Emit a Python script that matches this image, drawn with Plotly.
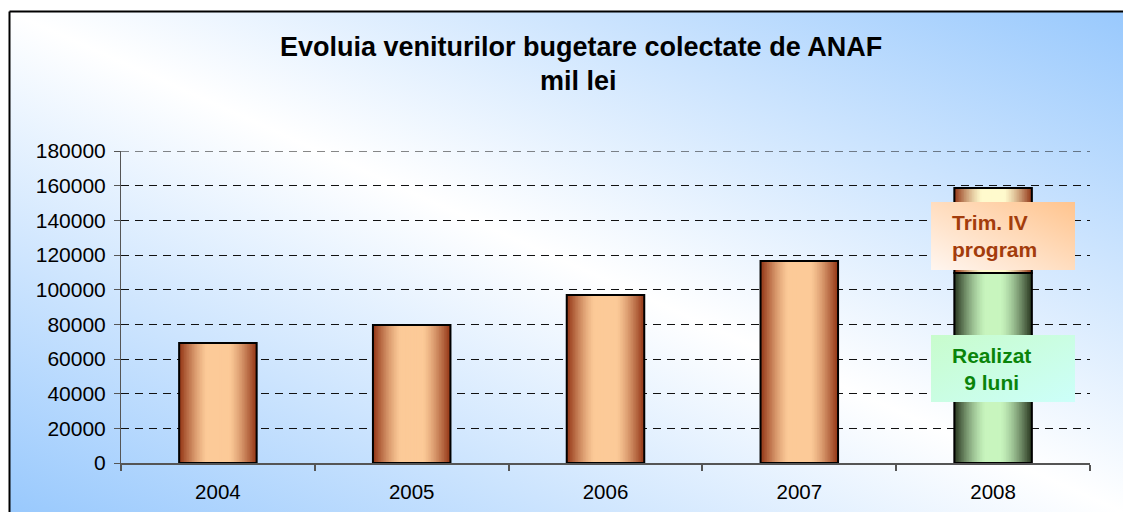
import math
import plotly.graph_objects as go

# ---- data ----
years = ["2004", "2005", "2006", "2007", "2008"]
totals = [69200, 79600, 96900, 116500, 158600]   # mil lei
realizat_2008 = 109600                            # 9 months realised
trim_iv_2008 = totals[-1] - realizat_2008         # Q4 programme
y_ticks = [0, 20000, 40000, 60000, 80000, 100000, 120000, 140000, 160000, 180000]
title_lines = ["Evoluia veniturilor bugetare colectate de ANAF", "mil lei"]

# ---- style ----
W, H = 1123, 512
L, R, T, B = 121, 33, 151, 49
PW, PH = W - L - R, H - T - B
BAR_W = 0.40
NLEV = 24
GRID_DASH = "8px,6px"


def px_x(x):
    return (x - L) / PW


def px_y(y):
    return (H - B - y) / PH


def mix(c1, c2, f):
    return "rgb(%d,%d,%d)" % tuple(round(a + (b - a) * f) for a, b in zip(c1, c2))


def profile(t, k=1.12):
    v = math.sin(math.pi * t)
    return max(0.0, min(1.0, k * v))


BROWN_D, BROWN_L = (145, 52, 20), (252, 202, 152)
TOP_D, TOP_L = (145, 52, 20), (255, 250, 205)
GREEN_D, GREEN_L = (38, 52, 30), (200, 245, 190)

fig = go.Figure()

bar_x = years
bar_base = [0, 0, 0, 0, realizat_2008]
bar_len = totals[:4] + [trim_iv_2008]

# nested bars (outer -> inner) give a smooth cylindrical shading
for k in range(NLEV):
    w = BAR_W * (1 - k / NLEV)
    t = (k + 0.5) / (2 * NLEV)
    f = profile(t)
    cols = [mix(BROWN_D, BROWN_L, f)] * 4 + [mix(TOP_D, TOP_L, f)]
    fig.add_trace(go.Bar(
        x=bar_x, y=bar_len, base=bar_base, width=w,
        marker=dict(color=cols, line=dict(width=0)),
        hoverinfo="skip", showlegend=False))
    fig.add_trace(go.Bar(
        x=[years[-1]], y=[realizat_2008], base=[0], width=w,
        marker=dict(color=mix(GREEN_D, GREEN_L, profile(t, 1.05)), line=dict(width=0)),
        hoverinfo="skip", showlegend=False))

# outlines
fig.add_trace(go.Bar(x=bar_x, y=bar_len, base=bar_base, width=BAR_W,
                     marker=dict(color="rgba(0,0,0,0)", line=dict(color="black", width=2)),
                     showlegend=False, name="Total"))
fig.add_trace(go.Bar(x=[years[-1]], y=[realizat_2008], base=[0], width=BAR_W,
                     marker=dict(color="rgba(0,0,0,0)", line=dict(color="black", width=2)),
                     showlegend=False, name="Realizat 9 luni"))

bg_svg = ("data:image/svg+xml;utf8,"
          "<svg xmlns='http://www.w3.org/2000/svg' viewBox='0 0 100 100' preserveAspectRatio='none'>"
          "<defs><linearGradient id='g' x1='0' y1='1' x2='1' y2='0'>"
          "<stop offset='0' stop-color='%2399c9fd'/>"
          "<stop offset='0.5' stop-color='%23ffffff'/>"
          "<stop offset='1' stop-color='%2399c9fd'/>"
          "</linearGradient></defs><rect width='100' height='100' fill='url(%23g)'/></svg>")

trim_svg = ("data:image/svg+xml;utf8,"
            "<svg xmlns='http://www.w3.org/2000/svg' viewBox='0 0 100 100' preserveAspectRatio='none'>"
            "<defs><linearGradient id='g' x1='0' y1='1' x2='1' y2='0'>"
            "<stop offset='0' stop-color='%23fff6f0'/>"
            "<stop offset='1' stop-color='%23ffc48e'/>"
            "</linearGradient></defs><rect width='100' height='100' fill='url(%23g)'/></svg>")

real_svg = ("data:image/svg+xml;utf8,"
            "<svg xmlns='http://www.w3.org/2000/svg' viewBox='0 0 100 100' preserveAspectRatio='none'>"
            "<defs><linearGradient id='g' x1='0' y1='0' x2='1' y2='1'>"
            "<stop offset='0' stop-color='%23c8fccc'/>"
            "<stop offset='1' stop-color='%23ccfffa'/>"
            "</linearGradient></defs><rect width='100' height='100' fill='url(%23g)'/></svg>")

images = [
    dict(source=bg_svg, xref="paper", yref="paper", x=px_x(10), y=px_y(12),
         sizex=(W - 10) / PW, sizey=(H - 12) / PH, sizing="stretch",
         xanchor="left", yanchor="top", layer="below"),
    dict(source=trim_svg, xref="paper", yref="paper", x=px_x(931), y=px_y(202),
         sizex=144 / PW, sizey=68 / PH, sizing="stretch",
         xanchor="left", yanchor="top", layer="above"),
    dict(source=real_svg, xref="paper", yref="paper", x=px_x(931), y=px_y(335),
         sizex=144 / PW, sizey=67 / PH, sizing="stretch",
         xanchor="left", yanchor="top", layer="above"),
]

shapes = [
    dict(type="line", xref="paper", yref="paper", x0=px_x(9.5), x1=px_x(W + 2),
         y0=px_y(11.5), y1=px_y(11.5), line=dict(color="black", width=2)),
    dict(type="line", xref="paper", yref="paper", x0=px_x(9.5), x1=px_x(9.5),
         y0=px_y(11.5), y1=px_y(H + 2), line=dict(color="black", width=2)),
    # top gridline (plotly omits the gridline at the range edge)
    dict(type="line", xref="paper", yref="y", x0=0, x1=1,
         y0=y_ticks[-1], y1=y_ticks[-1], layer="below",
         line=dict(color="#111", width=1, dash=GRID_DASH)),
]

FONT = "Liberation Sans, Arial"
annotations = [
    dict(text="<b>" + title_lines[0] + "</b>", xref="paper", yref="paper",
         x=px_x(581), y=px_y(47), xanchor="center", yanchor="middle", showarrow=False,
         font=dict(family=FONT, size=27, color="black")),
    dict(text="<b>" + title_lines[1] + "</b>", xref="paper", yref="paper",
         x=px_x(578), y=px_y(81), xanchor="center", yanchor="middle", showarrow=False,
         font=dict(family=FONT, size=27, color="black")),
    dict(text="<b>Trim. IV<br>program</b>", xref="paper", yref="paper",
         x=px_x(950), y=px_y(236), xanchor="left", yanchor="middle", align="left",
         showarrow=False,
         font=dict(family=FONT, size=21, color="#a33c0c")),
    dict(text="<b>Realizat<br>9 luni</b>", xref="paper", yref="paper",
         x=px_x(991), y=px_y(369), xanchor="center", yanchor="middle", align="center",
         showarrow=False,
         font=dict(family=FONT, size=21, color="#0a840a")),
]

fig.update_layout(
    width=W, height=H,
    margin=dict(l=L, r=R, t=T, b=B, pad=0, autoexpand=False),
    barmode="overlay",
    paper_bgcolor="white",
    plot_bgcolor="rgba(0,0,0,0)",
    images=images, shapes=shapes, annotations=annotations,
    font=dict(family=FONT, size=20, color="black"),
    xaxis=dict(type="category", showgrid=False, showline=True, linecolor="#555",
               linewidth=2, ticks="outside", tickson="boundaries", ticklen=6,
               tickcolor="#555", tickwidth=2, tickfont=dict(size=20.5),
               ticklabelstandoff=9, automargin=False, fixedrange=True),
    yaxis=dict(range=[0, 180000], tickvals=y_ticks, ticktext=[str(v) for v in y_ticks],
               showgrid=True, gridcolor="#111", griddash=GRID_DASH, gridwidth=1,
               showline=True, linecolor="#555", linewidth=1, ticks="outside",
               ticklen=6, tickcolor="#555", tickfont=dict(size=21), zeroline=False,
               ticklabelstandoff=4, automargin=False, fixedrange=True),
)

fig.write_html("out.html", config={"displayModeBar": False},
               post_script="document.body.style.margin='0';")
